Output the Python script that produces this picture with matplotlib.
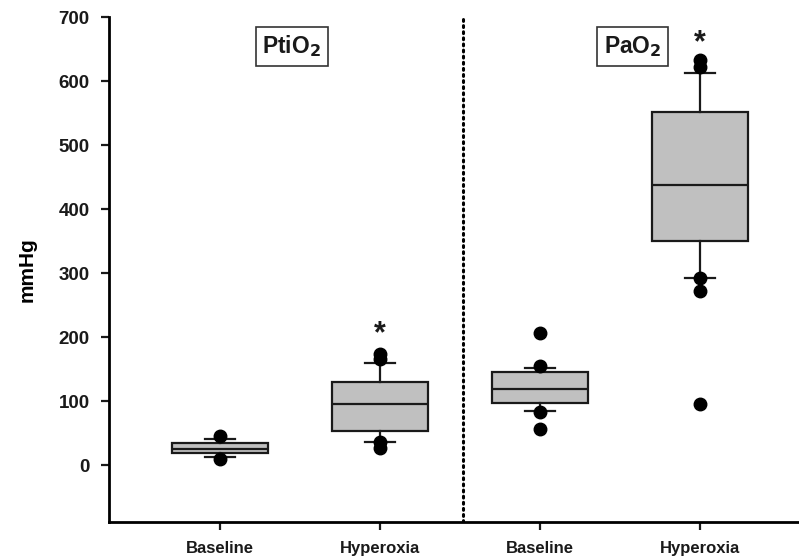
import matplotlib.pyplot as plt

plt.rcParams['font.family'] = ['Liberation Sans', 'DejaVu Sans']

# data
categories = ['Baseline', 'Hyperoxia', 'Baseline', 'Hyperoxia']
q1 = [18, 53, 97, 350]
medians = [25, 95, 118, 438]
q3 = [34, 129, 145, 552]
whisker_low = [12, 36, 85, 292]
whisker_high = [40, 159, 152, 613]
outliers = [[45, 9],
            [174, 165, 36, 27],
            [206, 155, 83, 57],
            [633, 622, 292, 272, 95]]
star_values = [205, 659]          # "*" above the hyperoxia groups
panel_labels = ['PtiO$_\\mathbf{2}$', 'PaO$_\\mathbf{2}$']

positions = [1, 2, 3, 4]

stats = []
for i in range(len(categories)):
    stats.append({'med': medians[i], 'q1': q1[i], 'q3': q3[i],
                  'whislo': whisker_low[i], 'whishi': whisker_high[i],
                  'fliers': outliers[i], 'label': categories[i]})

fig = plt.figure(figsize=(7.99, 5.56), dpi=100)
ax = fig.add_axes([0.1364, 0.0612, 0.8636, 0.9082])

ax.bxp(stats, positions=positions, widths=0.6, patch_artist=True,
       capwidths=0.19,
       boxprops=dict(facecolor='#c0c0c0', edgecolor='#1a1a1a', linewidth=1.6),
       medianprops=dict(color='#1a1a1a', linewidth=1.6),
       whiskerprops=dict(color='#1a1a1a', linewidth=1.6),
       capprops=dict(color='#1a1a1a', linewidth=1.6),
       flierprops=dict(marker='o', markerfacecolor='black', markeredgecolor='black',
                       markersize=9))

# stars
for pos, val in zip([2, 4], star_values):
    ax.text(pos, val, '*', ha='center', va='center', fontsize=22, fontweight='bold',
            color='#1a1a1a')

# dotted divider between the two panels
ax.axvline(2.52, color='black', linestyle=(0, (0.6, 1.4)), linewidth=2.2,
           dash_capstyle='round')

# panel labels in boxes
for xpos, lab in zip([1.45, 3.58], panel_labels):
    ax.text(xpos, 654, lab, ha='center', va='center', fontsize=16.5, fontweight='bold',
            color='#1a1a1a',
            bbox=dict(boxstyle='square,pad=0.3', facecolor='white', edgecolor='#333333',
                      linewidth=1.2))

ax.set_xlim(0.306, 4.62)
ax.set_ylim(-89, 700)
ax.set_yticks(range(0, 701, 100))
ax.set_xticks(positions)
ax.set_xticklabels(categories, fontsize=12, fontweight='bold')
for t in ax.get_yticklabels():
    t.set_fontweight('bold')
    t.set_fontsize(13.5)

ax.set_ylabel('mmHg', fontsize=15, fontweight='bold', labelpad=16)

ax.spines['top'].set_visible(False)
ax.spines['right'].set_visible(False)
ax.spines['left'].set_linewidth(2)
ax.spines['bottom'].set_linewidth(2)
ax.tick_params(axis='both', direction='out', length=6, width=1.6, colors='#1a1a1a')
ax.tick_params(axis='y', pad=8)
ax.tick_params(axis='x', pad=8)

plt.savefig('out.png', dpi=100)
